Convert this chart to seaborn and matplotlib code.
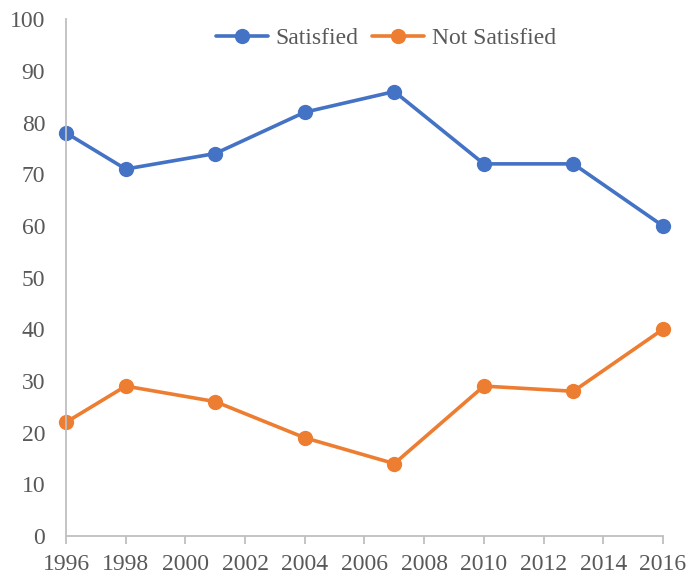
import matplotlib
matplotlib.use("Agg")
import matplotlib.pyplot as plt
import seaborn as sns
import pandas as pd

years = [1996, 1998, 2001, 2004, 2007, 2010, 2013, 2016]
satisfied = [78, 71, 74, 82, 86, 72, 72, 60]
not_satisfied = [22, 29, 26, 19, 14, 29, 28, 40]
series_names = ["Satisfied", "Not Satisfied"]
x_ticks = list(range(1996, 2017, 2))
y_ticks = list(range(0, 101, 10))

df = pd.DataFrame({
    "Year": years * 2,
    "Value": satisfied + not_satisfied,
    "Series": [series_names[0]] * len(years) + [series_names[1]] * len(years),
})

sns.set_theme(style="white")
plt.rcParams["font.family"] = ["Liberation Serif", "DejaVu Serif"]

fig = plt.figure(figsize=(6.92, 5.81), dpi=100)
ax = fig.add_axes([0.0954, 0.0775, 0.8626, 0.8895])

sns.lineplot(
    data=df, x="Year", y="Value", hue="Series",
    palette={"Satisfied": "#4472C4", "Not Satisfied": "#ED7D31"},
    marker="o", markersize=11, markeredgewidth=0, linewidth=2.6, ax=ax,
)

ax.set_xlim(1996, 2016)
ax.set_ylim(0, 100)
ax.set_xticks(x_ticks)
ax.set_yticks(y_ticks)
ax.set_xlabel("")
ax.set_ylabel("")
for s in ["top", "right"]:
    ax.spines[s].set_visible(False)
for s in ["left", "bottom"]:
    ax.spines[s].set_color("#BFBFBF")
    ax.spines[s].set_linewidth(1.3)
ax.tick_params(axis="x", direction="out", length=6, width=1.3, color="#BFBFBF",
               labelsize=17, labelcolor="#595959", pad=7, bottom=True)
ax.tick_params(axis="y", length=0, labelsize=17, labelcolor="#595959", pad=15)
for lbl in ax.get_yticklabels():
    lbl.set_horizontalalignment("right")

leg = ax.legend(loc="center", bbox_to_anchor=(0.536, 0.963), ncol=2, frameon=False,
                fontsize=17, handlelength=2.2, columnspacing=0.6, handletextpad=0.3,
                labelcolor="#595959", borderpad=0)
for line in ax.get_lines():
    line.set_clip_on(False)

fig.savefig("out.png", dpi=100)
